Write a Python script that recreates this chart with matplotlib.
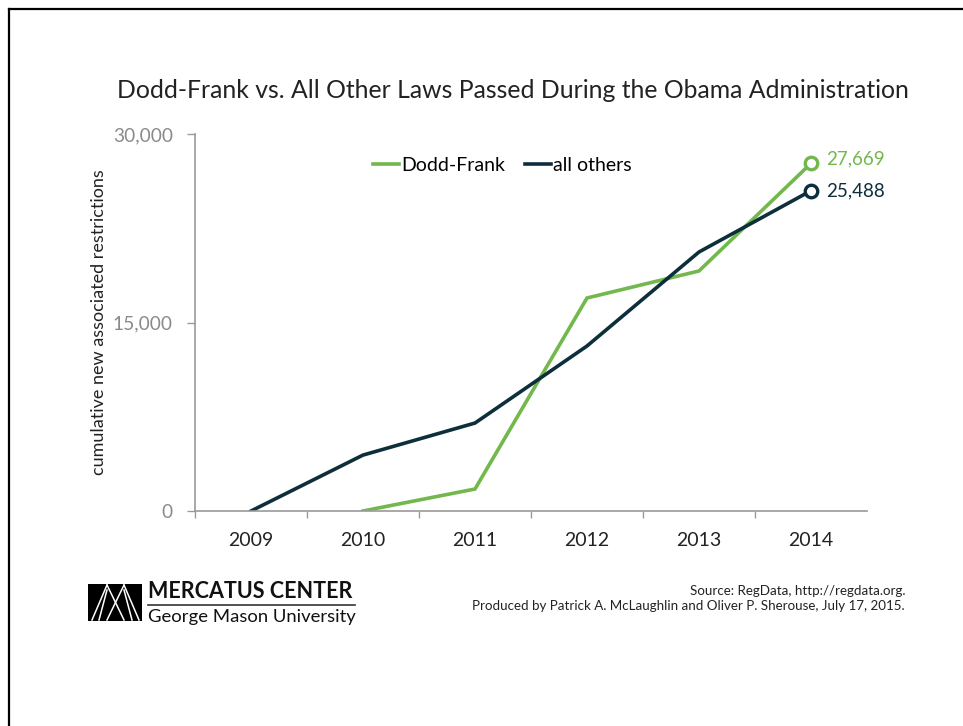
import matplotlib
matplotlib.use("Agg")
import matplotlib.pyplot as plt
from matplotlib.lines import Line2D
from matplotlib.patches import Rectangle

# ---- data ----
years = ["2009", "2010", "2011", "2012", "2013", "2014"]
dodd_frank = [None, 0, 1750, 16950, 19100, 27669]
all_others = [0, 4450, 7000, 13130, 20610, 25488]
y_ticks = [0, 15000, 30000]
y_tick_labels = ["0", "15,000", "30,000"]

GREEN = "#72b84c"
NAVY = "#0d2f3b"
GRAY = "#9a9a9a"

plt.rcParams["font.family"] = ["Lato", "DejaVu Sans"]

W, H = 963, 726
fig = plt.figure(figsize=(W / 100, H / 100), dpi=100)


def fx(px):
    return px / W


def fy(py):
    return 1 - py / H


# page frame (top and left edges)
fig.add_artist(Line2D([fx(9), 1], [fy(9), fy(9)], color="black", lw=1.6))
fig.add_artist(Line2D([fx(9), fx(9)], [fy(9), 0], color="black", lw=1.6))

ax = fig.add_axes([fx(195), fy(511), (867 - 195) / W, (511 - 134) / H])

xs = list(range(len(years)))
df_x = [x for x, v in zip(xs, dodd_frank) if v is not None]
df_y = [v for v in dodd_frank if v is not None]

ax.plot(df_x, df_y, color=GREEN, lw=2.6, label="Dodd-Frank", solid_joinstyle="miter")
ax.plot(xs, all_others, color=NAVY, lw=2.6, label="all others", solid_joinstyle="miter")

# open end markers
ax.plot(df_x[-1], df_y[-1], "o", ms=9, mfc="white", mec=GREEN, mew=2.4, zorder=5)
ax.plot(xs[-1], all_others[-1], "o", ms=9, mfc="white", mec=NAVY, mew=2.4, zorder=5)

ax.annotate(f"{df_y[-1]:,}", (df_x[-1], df_y[-1]), xytext=(11, 3),
            textcoords="offset points", color=GREEN, fontsize=13.5, va="center")
ax.annotate(f"{all_others[-1]:,}", (xs[-1], all_others[-1]), xytext=(11, 0),
            textcoords="offset points", color=NAVY, fontsize=13.5, va="center")

ax.set_xlim(-0.5, len(years) - 0.5)
ax.set_ylim(0, 30000)

ax.set_xticks(xs)
ax.set_xticklabels(years, fontsize=14, color="#222222")
ax.tick_params(axis="x", length=0, pad=15)
ax.set_xticks([x + 0.5 for x in xs[:-1]] + [-0.5], minor=True)
ax.tick_params(axis="x", which="minor", length=5, color=GRAY, width=1)

ax.set_yticks(y_ticks)
ax.set_yticklabels(y_tick_labels, fontsize=13.8, color="#8a8a8a")
ax.tick_params(axis="y", length=6, color=GRAY, width=1, pad=10)

for s in ("top", "right"):
    ax.spines[s].set_visible(False)
for s in ("left", "bottom"):
    ax.spines[s].set_color(GRAY)
    ax.spines[s].set_linewidth(1.2)

ax.set_ylabel("cumulative new associated restrictions", fontsize=13,
              color="#222222", labelpad=4)

leg = ax.legend(loc="upper center", bbox_to_anchor=(0.457, 0.985), ncol=2,
                frameon=False, fontsize=14, handlelength=1.35, handletextpad=0.1,
                columnspacing=1.0)

fig.text(fx(513), fy(90), "Dodd-Frank vs. All Other Laws Passed During the Obama Administration",
         ha="center", va="center", fontsize=17.8, color="#222222")

# logo block
fig.add_artist(Rectangle((fx(88), fy(621)), (142 - 88) / W, (621 - 584) / H,
                         facecolor="black", edgecolor="none"))
logo_lines = [
    ((92, 620), (107, 585)), ((107, 585), (124, 620)),
    ((107, 620), (124, 585)), ((124, 585), (139, 620)),
    ((99, 620), (107, 590)), ((124, 590), (132, 620)),
]
for (x0, y0), (x1, y1) in logo_lines:
    fig.add_artist(Line2D([fx(x0), fx(x1)], [fy(y0), fy(y1)], color="white", lw=1.1))

fig.text(fx(148), fy(592), "MERCATUS CENTER", fontsize=15.5, fontweight="bold",
         color="#111111", va="center", ha="left")
fig.add_artist(Line2D([fx(148), fx(355)], [fy(605), fy(605)], color="#333333", lw=1.2))
fig.text(fx(148), fy(617), "George Mason University", fontsize=13.3,
         color="#111111", va="center", ha="left")

fig.text(fx(905), fy(591), "Source: RegData, http://regdata.org.", fontsize=9.6,
         color="#222222", ha="right", va="center")
fig.text(fx(905), fy(606), "Produced by Patrick A. McLaughlin and Oliver P. Sherouse, July 17, 2015.",
         fontsize=9.6, color="#222222", ha="right", va="center")

fig.savefig("out.png", dpi=100)
